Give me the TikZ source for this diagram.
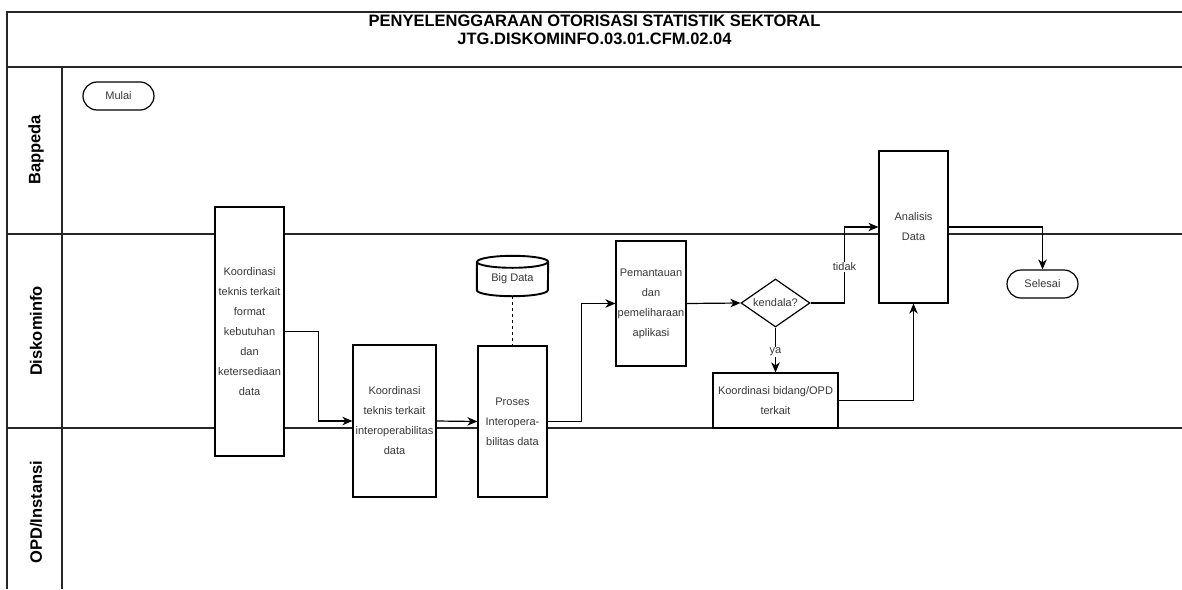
\documentclass[tikz,border=0pt]{standalone}
\usepackage{fontspec}
\setmainfont{Liberation Sans}
\usetikzlibrary{arrows.meta,shapes.geometric,calc}
\definecolor{txt}{gray}{0.22}
\definecolor{frame}{gray}{0.15}
\begin{document}
\begin{tikzpicture}[x=1pt,y=-1pt,
  lane/.style={line width=1.5pt, draw=frame},
  boxnode/.style={draw, fill=white, line width=1.2pt, align=center, text=txt,
    font=\fontsize{11}{20}\selectfont, inner sep=1pt},
  termnode/.style={draw, fill=white, line width=1.2pt, rounded corners=14pt, text=txt,
    font=\fontsize{11}{13}\selectfont, minimum width=71pt, minimum height=28pt},
  decnode/.style={draw, fill=white, diamond, aspect=1.44, line width=1.2pt, text=txt,
    font=\fontsize{11}{13}\selectfont, inner sep=0pt, minimum width=69pt, minimum height=48pt},
  lanelabel/.style={rotate=90, font=\fontsize{16.5}{19}\bfseries\selectfont},
  arr/.style={line width=1.2pt, -{Stealth[length=10pt,width=8.5pt,inset=3pt]}},
  lbl/.style={fill=white, inner sep=1pt, text=txt, font=\fontsize{11}{13}\selectfont}
]
\useasboundingbox (0,0) rectangle (1182,589);
% frame
\draw[lane] (1182,12) -- (7,12) -- (7,589);
\draw[lane] (7,67) -- (1182,67);
\draw[lane] (62,67) -- (62,589);
\draw[lane] (7,234) -- (1182,234);
\draw[lane] (7,428) -- (1182,428);
% title
\node[align=center, font=\fontsize{16.5}{17.5}\bfseries\selectfont] (title) at (594.5,30)
  {PENYELENGGARAAN OTORISASI STATISTIK SEKTORAL\\JTG.DISKOMINFO.03.01.CFM.02.04};
% lane labels
\node[lanelabel] (l1) at (36,150) {Bappeda};
\node[lanelabel] (l2) at (36,331) {Diskominfo};
\node[lanelabel] (l3) at (36,512) {OPD/Instansi};
% nodes
\node[termnode] (mulai) at (118.5,96) {Mulai};
\node[boxnode, minimum width=69pt, minimum height=249pt] (b1) at (249.5,331.5)
  {Koordinasi\\teknis terkait\\format\\kebutuhan\\dan\\ketersediaan\\data};
\node[boxnode, minimum width=83pt, minimum height=152pt] (b2) at (394.5,421)
  {Koordinasi\\teknis terkait\\interoperabilitas\\data};
\node[boxnode, minimum width=69pt, minimum height=151pt] (b3) at (512.5,421.5)
  {Proses\\Interopera-\\bilitas data};
\node[boxnode, minimum width=70pt, minimum height=125pt] (b4) at (651,303.5)
  {Pemantauan\\dan\\pemeliharaan\\aplikasi};
\node[decnode] (dia) at (775.5,303) {kendala?};
\node[boxnode, minimum width=125pt, minimum height=55pt] (kb) at (775.5,400.5)
  {Koordinasi bidang/OPD\\terkait};
\node[boxnode, minimum width=69pt, minimum height=152pt] (an) at (913.5,227)
  {Analisis\\Data};
\node[termnode] (sel) at (1042.5,284) {Selesai};
% big data cylinder
\node[minimum width=71pt, minimum height=40pt, inner sep=0pt] (bd) at (512.5,276) {};
\draw[line width=1.9pt, fill=white] ([yshift=-6pt]bd.north west) -- ([yshift=6pt]bd.south west)
  arc[start angle=180, end angle=360, x radius=35.5pt, y radius=6pt]
  -- ([yshift=-6pt]bd.north east)
  arc[start angle=0, end angle=180, x radius=35.5pt, y radius=6pt] -- cycle;
\draw[line width=1.9pt] ([yshift=-6pt]bd.north west)
  arc[start angle=180, end angle=360, x radius=35.5pt, y radius=6pt];
\node[text=txt, font=\fontsize{11}{13}\selectfont] (bdtext) at ([yshift=-3pt]bd.center) {Big Data};
% connectors
\draw[arr] (b1.east) -| ($(b1.east)!0.5!(b2.west)$) |- (b2.west);
\draw[arr] (b2.east) -- (b3.west);
\draw[arr] (b3.east) -| ($(b3.east)!0.5!(b4.west)$) |- (b4.west);
\draw[line width=1.2pt, dashed] (bd.south) -- (b3.north);
\draw[arr] (b4.east) -- (dia.west);
\draw[arr] (dia.east) -| ($(dia.east)!0.5!(an.west)$) |- (an.west);
\node[lbl] (tidak) at (844.5,267) {tidak};
\draw[arr] (dia.south) -- (kb.north);
\node[lbl] (ya) at (775.5,352) {ya};
\draw[arr] (kb.east) -| (an.south);
\draw[arr] (an.east) -| (sel.north);
\end{tikzpicture}
\end{document}
